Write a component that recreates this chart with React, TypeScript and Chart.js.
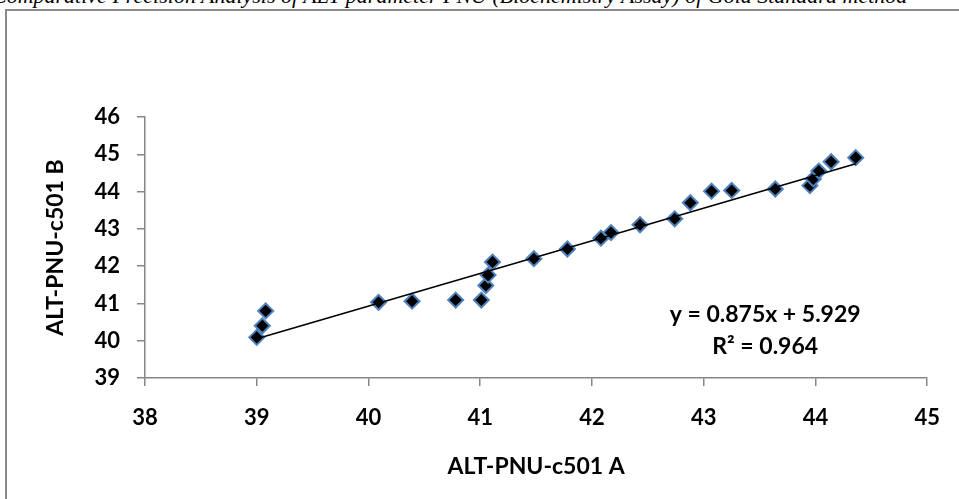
import React, { useEffect, useRef } from "react";
import { Chart, registerables } from "chart.js";

Chart.register(...registerables);

// Data
const xValues = [39.0, 39.05, 39.08, 40.09, 40.39, 40.78, 41.01, 41.05, 41.07, 41.11, 41.48, 41.78, 42.08, 42.17, 42.43, 42.74, 42.88, 43.07, 43.25, 43.64, 43.95, 43.98, 44.03, 44.14, 44.36];
const yValues = [40.09, 40.4, 40.8, 41.03, 41.06, 41.09, 41.09, 41.48, 41.76, 42.11, 42.2, 42.46, 42.75, 42.9, 43.11, 43.27, 43.7, 44.01, 44.03, 44.07, 44.16, 44.34, 44.55, 44.8, 44.91];

const trendSlope = 0.875;
const trendIntercept = 5.929;
const equationText = "y = 0.875x + 5.929";
const r2Text = "R\u00B2 = 0.964";
const equationAnchor = { x: 43.55, y1: 40.69, y2: 39.85 };

const xTitle = "ALT-PNU-c501 A";
const yTitle = "ALT-PNU-c501 B";
const xRange = { min: 38, max: 45, step: 1 };
const yRange = { min: 39, max: 46, step: 1 };

const caption = "Comparative Precision Analysis of ALT parameter PNU (Biochemistry Assay) of Gold Standard method";

const AXIS_GRAY = "#868686";
const FONT = "Lato, 'Open Sans', sans-serif";

export default function App() {
  const canvasRef = useRef<HTMLCanvasElement | null>(null);

  useEffect(() => {
    const canvas = canvasRef.current;
    if (!canvas) return;
    const tMinX = Math.min(...xValues);
    const tMaxX = Math.max(...xValues);
    const trend = [
      { x: tMinX, y: trendSlope * tMinX + trendIntercept },
      { x: tMaxX, y: trendSlope * tMaxX + trendIntercept },
    ];
    const points = xValues.map((x, i) => ({ x, y: yValues[i] }));

    const equationPlugin = {
      id: "equationLabel",
      afterDatasetsDraw(chart: any) {
        const { ctx, scales } = chart;
        const px = scales.x.getPixelForValue(equationAnchor.x);
        const py1 = scales.y.getPixelForValue(equationAnchor.y1);
        const py2 = scales.y.getPixelForValue(equationAnchor.y2);
        ctx.save();
        ctx.fillStyle = "#000";
        ctx.font = `bold 23px ${FONT}`;
        ctx.textAlign = "center";
        ctx.textBaseline = "middle";
        ctx.fillText(equationText, px, py1);
        ctx.fillText(r2Text, px, py2);
        ctx.restore();
      },
    };

    const chart = new Chart(canvas, {
      type: "scatter",
      data: {
        datasets: [
          {
            type: "line",
            label: "trend",
            data: trend,
            borderColor: "#000",
            borderWidth: 1.6,
            pointRadius: 0,
            fill: false,
            order: 0,
          } as any,
          {
            label: "data",
            data: points,
            pointStyle: "rectRot",
            pointRadius: 7.5,
            pointBackgroundColor: "#000",
            pointBorderColor: "#4f81bd",
            pointBorderWidth: 2,
            order: 1,
          } as any,
        ],
      },
      options: {
        animation: false,
        responsive: false,
        devicePixelRatio: 1,
        layout: { padding: { left: 0, top: 117, right: 29, bottom: 0 } },
        plugins: {
          legend: { display: false },
          tooltip: { enabled: false },
          title: { display: false },
        },
        scales: {
          x: {
            type: "linear",
            min: xRange.min,
            max: xRange.max,
            afterFit: (s: any) => {
              s.height = 121;
            },
            ticks: {
              stepSize: xRange.step,
              color: "#000",
              font: { family: FONT, size: 22, weight: "bold" },
              padding: 19,
            },
            grid: {
              drawOnChartArea: false,
              drawTicks: true,
              tickLength: 8,
              color: AXIS_GRAY,
              lineWidth: 1.5,
            },
            border: { color: AXIS_GRAY, width: 1.5 },
            title: {
              display: true,
              text: xTitle,
              color: "#000",
              font: { family: FONT, size: 23, weight: "bold" },
              padding: { top: 0, bottom: 19 },
            },
          },
          y: {
            type: "linear",
            min: yRange.min,
            max: yRange.max,
            afterFit: (s: any) => {
              s.width = 145;
            },
            ticks: {
              stepSize: yRange.step,
              color: "#000",
              font: { family: FONT, size: 22, weight: "bold" },
              padding: 17,
            },
            grid: {
              drawOnChartArea: false,
              drawTicks: true,
              tickLength: 8,
              color: AXIS_GRAY,
              lineWidth: 1.5,
            },
            border: { color: AXIS_GRAY, width: 1.5 },
            title: {
              display: true,
              text: yTitle,
              color: "#000",
              font: { family: FONT, size: 23, weight: "bold" },
              padding: { top: 42, bottom: 0 },
            },
          },
        },
      },
      plugins: [equationPlugin],
    });
    return () => chart.destroy();
  }, []);

  return (
    <div
      style={{
        position: "fixed",
        left: 0,
        top: 0,
        width: 959,
        height: 499,
        overflow: "hidden",
        background: "#fff",
      }}
    >
      <div
        style={{
          position: "absolute",
          left: -8,
          top: -15,
          whiteSpace: "nowrap",
          fontFamily: "'Liberation Serif', 'DejaVu Serif', serif",
          fontStyle: "italic",
          fontSize: 22,
          lineHeight: "22px",
          color: "#000",
        }}
      >
        {caption}
      </div>
      <div
        style={{
          position: "absolute",
          left: 5,
          top: 9,
          width: 1000,
          height: 600,
          border: "2px solid #8a8a8a",
        }}
      />
      <canvas
        ref={canvasRef}
        width={959}
        height={499}
        style={{ position: "absolute", left: 0, top: 0, width: 959, height: 499 }}
      />
    </div>
  );
}
